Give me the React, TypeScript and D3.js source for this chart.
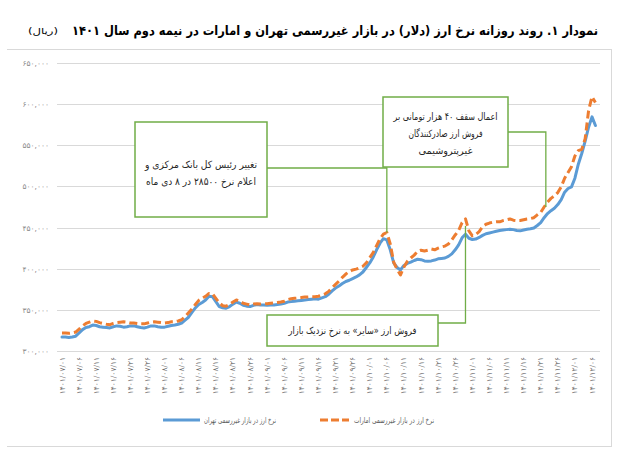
import React from 'react';
import * as d3 from 'd3';

const title = 'نمودار ۱. روند روزانه نرخ ارز (دلار) در بازار غیررسمی تهران و امارات در نیمه دوم سال ۱۴۰۱';
const unitLabel = '(ریال)';

const xTickLabels = [
  '۱۴۰۱/۰۷/۰۱', '۱۴۰۱/۰۷/۰۶', '۱۴۰۱/۰۷/۱۱', '۱۴۰۱/۰۷/۱۶', '۱۴۰۱/۰۷/۲۱', '۱۴۰۱/۰۷/۲۶',
  '۱۴۰۱/۰۸/۰۱', '۱۴۰۱/۰۸/۰۶', '۱۴۰۱/۰۸/۱۱', '۱۴۰۱/۰۸/۱۶', '۱۴۰۱/۰۸/۲۱', '۱۴۰۱/۰۸/۲۶',
  '۱۴۰۱/۰۹/۰۱', '۱۴۰۱/۰۹/۰۶', '۱۴۰۱/۰۹/۱۱', '۱۴۰۱/۰۹/۱۶', '۱۴۰۱/۰۹/۲۱', '۱۴۰۱/۰۹/۲۶',
  '۱۴۰۱/۱۰/۰۱', '۱۴۰۱/۱۰/۰۶', '۱۴۰۱/۱۰/۱۱', '۱۴۰۱/۱۰/۱۶', '۱۴۰۱/۱۰/۲۱', '۱۴۰۱/۱۰/۲۶',
  '۱۴۰۱/۱۱/۰۱', '۱۴۰۱/۱۱/۰۶', '۱۴۰۱/۱۱/۱۱', '۱۴۰۱/۱۱/۱۶', '۱۴۰۱/۱۱/۲۱', '۱۴۰۱/۱۱/۲۶',
  '۱۴۰۱/۱۲/۰۱', '۱۴۰۱/۱۲/۰۶',
];
const xTickStep = 5;

const yTicks = [300000, 350000, 400000, 450000, 500000, 550000, 600000, 650000];
const yTickLabels = ['۳۰۰,۰۰۰', '۳۵۰,۰۰۰', '۴۰۰,۰۰۰', '۴۵۰,۰۰۰', '۵۰۰,۰۰۰', '۵۵۰,۰۰۰', '۶۰۰,۰۰۰', '۶۵۰,۰۰۰'];

const seriesNames = ['نرخ ارز در بازار غیررسمی تهران', 'نرخ ارز در بازار غیررسمی امارات'];

const tehran = [
  317000, 317000, 316500, 317000, 318000, 322000, 326000, 328500, 329500, 331500,
  331000, 329500, 329000, 328500, 328000, 329500, 330500, 330000, 329000, 329500,
  330500, 330500, 329500, 328500, 328000, 329000, 330500, 330500, 329500, 329000,
  329000, 330000, 331000, 331500, 332500, 334000, 337500, 341000, 347000, 352500,
  356500, 359000, 362000, 366500, 366000, 360000, 354000, 352500, 352000, 354000,
  357000, 359500, 358000, 355500, 354500, 354000, 355500, 356500, 356000, 356000,
  355500, 356000, 356000, 356500, 357000, 358000, 359500, 360000, 360500, 361000,
  361500, 362000, 362500, 363000, 363500, 363000, 364500, 366000, 369000, 373000,
  376500, 379000, 382000, 384500, 386000, 388000, 390000, 392500, 396000, 401500,
  407000, 414000, 423000, 431000, 436500, 435000, 423000, 407000, 401500, 398500,
  404000, 406500, 408000, 410000, 411500, 411000, 409500, 409000, 409500, 410500,
  412000, 412500, 413000, 415000, 418000, 423000, 429000, 437500, 442000, 437000,
  435500, 436000, 438000, 440500, 442500, 443500, 444500, 445500, 446500, 447000,
  447500, 448000, 447500, 446500, 446000, 447000, 448000, 448500, 449500, 452500,
  456000, 462000, 467000, 470500, 473500, 478000, 484000, 493000, 497500, 499500,
  510000, 527000, 540000, 555000, 572000, 584500, 574000,
];

const uae = [
  322000, 322000, 321500, 322000, 323000, 326500, 330500, 333500, 335000, 336500,
  336000, 334500, 333500, 332500, 332000, 333500, 334500, 335000, 335500, 335000,
  334000, 334000, 333500, 333000, 333000, 334000, 335000, 335500, 335000, 334500,
  334000, 334500, 335500, 335500, 336500, 338000, 342000, 346500, 351000, 356500,
  361500, 364000, 366500, 370000, 369500, 364000, 358500, 355000, 354500, 356500,
  359500, 362000, 360500, 358000, 357000, 356000, 357000, 357500, 357000, 357500,
  357500, 358000, 358500, 359000, 359500, 360500, 362500, 363500, 364000, 364500,
  365000, 365500, 365500, 366000, 366000, 366500, 368000, 369500, 372500, 377000,
  381000, 385000, 389500, 393500, 396500, 398500, 399500, 401000, 403000, 407000,
  413500, 419500, 428000, 436500, 442000, 444000, 430000, 408000, 399000, 392500,
  402000, 409000, 413000, 416500, 421000, 422500, 421500, 422500, 424000, 423000,
  425000, 426500, 427500, 430000, 435000, 441000, 446500, 456000, 460500, 446000,
  440000, 441500, 445000, 451000, 454000, 455500, 456500, 457000, 457000, 458500,
  459500, 460500, 459000, 458500, 458500, 459500, 460500, 461000, 462000, 465500,
  468500, 475000, 481000, 485500, 488500, 492500, 499500, 510000, 517000, 524000,
  537000, 543500, 545000, 558000, 592000, 609000, 602000,
];

// annotations: text lines, the day index and series value they point to
const notes = [
  { lines: ['تغییر رئیس کل بانک مرکزی و', 'اعلام نرخ ۲۸۵۰۰ در ۸ دی ماه'], day: 95, value: 444000 },
  { lines: ['اعمال سقف ۴۰ هزار تومانی بر', 'فروش ارز صادرکنندگان', 'غیرپتروشیمی'], day: 141.5, value: 475000 },
  { lines: ['فروش ارز «سایر» به نرخ نزدیک بازار'], day: 118, value: 452000 },
];

const W = 624;
const H = 458;
const FONT = '"DejaVu Sans", sans-serif';

export default function App() {
  const x = d3.scaleLinear().domain([0, (xTickLabels.length - 1) * xTickStep]).range([62, 592]);
  const y = d3.scaleLinear().domain([300000, 650000]).range([351, 63]);
  const line = d3.line<number>().x((_, i) => x(i)).y((d) => y(d)).curve(d3.curveLinear);

  const gridL = 57;
  const gridR = 600;

  const boxes = [
    { x0: 135, y0: 122, x1: 267, y1: 217, lineY0: 165, lineDy: 17, elbowY: 168, w: [112, 110] },
    { x0: 383, y0: 97, x1: 508, y1: 167, lineY0: 117, lineDy: 17, elbowY: 132, w: [104, 74, 54] },
    { x0: 267, y0: 315, x1: 438, y1: 346, lineY0: 331, lineDy: 17, elbowY: 323, w: [128] },
  ];

  return (
    <svg width={W} height={H} style={{ position: 'absolute', left: 0, top: 0, background: '#fff' }} fontFamily={FONT}>
      <rect x={0} y={0} width={W} height={H} fill="#fff" />
      {/* title */}
      <text x={598} y={35} direction="rtl" textAnchor="start" fontSize={13} fontWeight="bold" fill="#000"
        textLength={526} lengthAdjust="spacingAndGlyphs">
        {title}
      </text>
      <text x={58} y={34} direction="rtl" textAnchor="start" fontSize={8.5} fill="#000" textLength={30} lengthAdjust="spacingAndGlyphs">
        {unitLabel}
      </text>
      <line x1={7} x2={612} y1={49.5} y2={49.5} stroke="#d9d9d9" strokeWidth={1} />
      <line x1={611.5} x2={611.5} y1={50} y2={447} stroke="#d9d9d9" strokeWidth={1} />
      <line x1={7} x2={612} y1={446.5} y2={446.5} stroke="#d9d9d9" strokeWidth={1} />

      {/* grid */}
      {yTicks.map((t, i) => (
        <g key={t}>
          <line x1={gridL} x2={gridR} y1={Math.round(y(t)) + 0.5} y2={Math.round(y(t)) + 0.5} stroke="#d9d9d9" strokeWidth={1} />
          <text x={49} y={y(t) + 3} textAnchor="end" fontSize={7.5} fill="#8c8c8c">
            {yTickLabels[i]}
          </text>
        </g>
      ))}

      {/* x tick labels */}
      {xTickLabels.map((lab, i) => {
        const px = x(i * xTickStep);
        return (
          <text
            key={lab}
            transform={`translate(${px + 2.5},357) rotate(-90)`}
            textAnchor="end"
            direction="ltr"
            fontSize={7.5}
            fill="#6f6f6f"
          >
            {lab}
          </text>
        );
      })}

      {/* series */}
      <path d={line(tehran) || ''} fill="none" stroke="#5b9bd5" strokeWidth={3} strokeLinejoin="round" strokeLinecap="round" />
      <path d={line(uae) || ''} fill="none" stroke="#ed7d31" strokeWidth={3} strokeDasharray="8,4" strokeLinejoin="round" />

      {/* annotations */}
      {notes.map((n, i) => {
        const b = boxes[i];
        const px = x(n.day);
        const py = y(n.value);
        const cx = (b.x0 + b.x1) / 2;
        return (
          <g key={i}>
            <polyline
              points={`${b.x1},${b.elbowY} ${px},${b.elbowY} ${px},${py}`}
              fill="none"
              stroke="#70ad47"
              strokeWidth={1.3}
            />
            <rect x={b.x0} y={b.y0} width={b.x1 - b.x0} height={b.y1 - b.y0} fill="#fff" stroke="#70ad47" strokeWidth={1.5} />
            {n.lines.map((l, j) => (
              <text key={j} x={cx + b.w[j] / 2} y={b.lineY0 + j * b.lineDy + 3} textAnchor="start" direction="rtl" fontSize={10} fill="#262626"
                textLength={b.w[j]} lengthAdjust="spacingAndGlyphs">
                {l}
              </text>
            ))}
          </g>
        );
      })}

      {/* legend */}
      <line x1={163} x2={200} y1={420} y2={420} stroke="#5b9bd5" strokeWidth={3} />
      <text x={276} y={423} direction="rtl" textAnchor="start" fontSize={8} fill="#595959" textLength={72} lengthAdjust="spacingAndGlyphs">
        {seriesNames[0]}
      </text>
      <line x1={320} x2={349} y1={420} y2={420} stroke="#ed7d31" strokeWidth={3} strokeDasharray="8,3" />
      <text x={434} y={423} direction="rtl" textAnchor="start" fontSize={8} fill="#595959" textLength={80} lengthAdjust="spacingAndGlyphs">
        {seriesNames[1]}
      </text>
    </svg>
  );
}
